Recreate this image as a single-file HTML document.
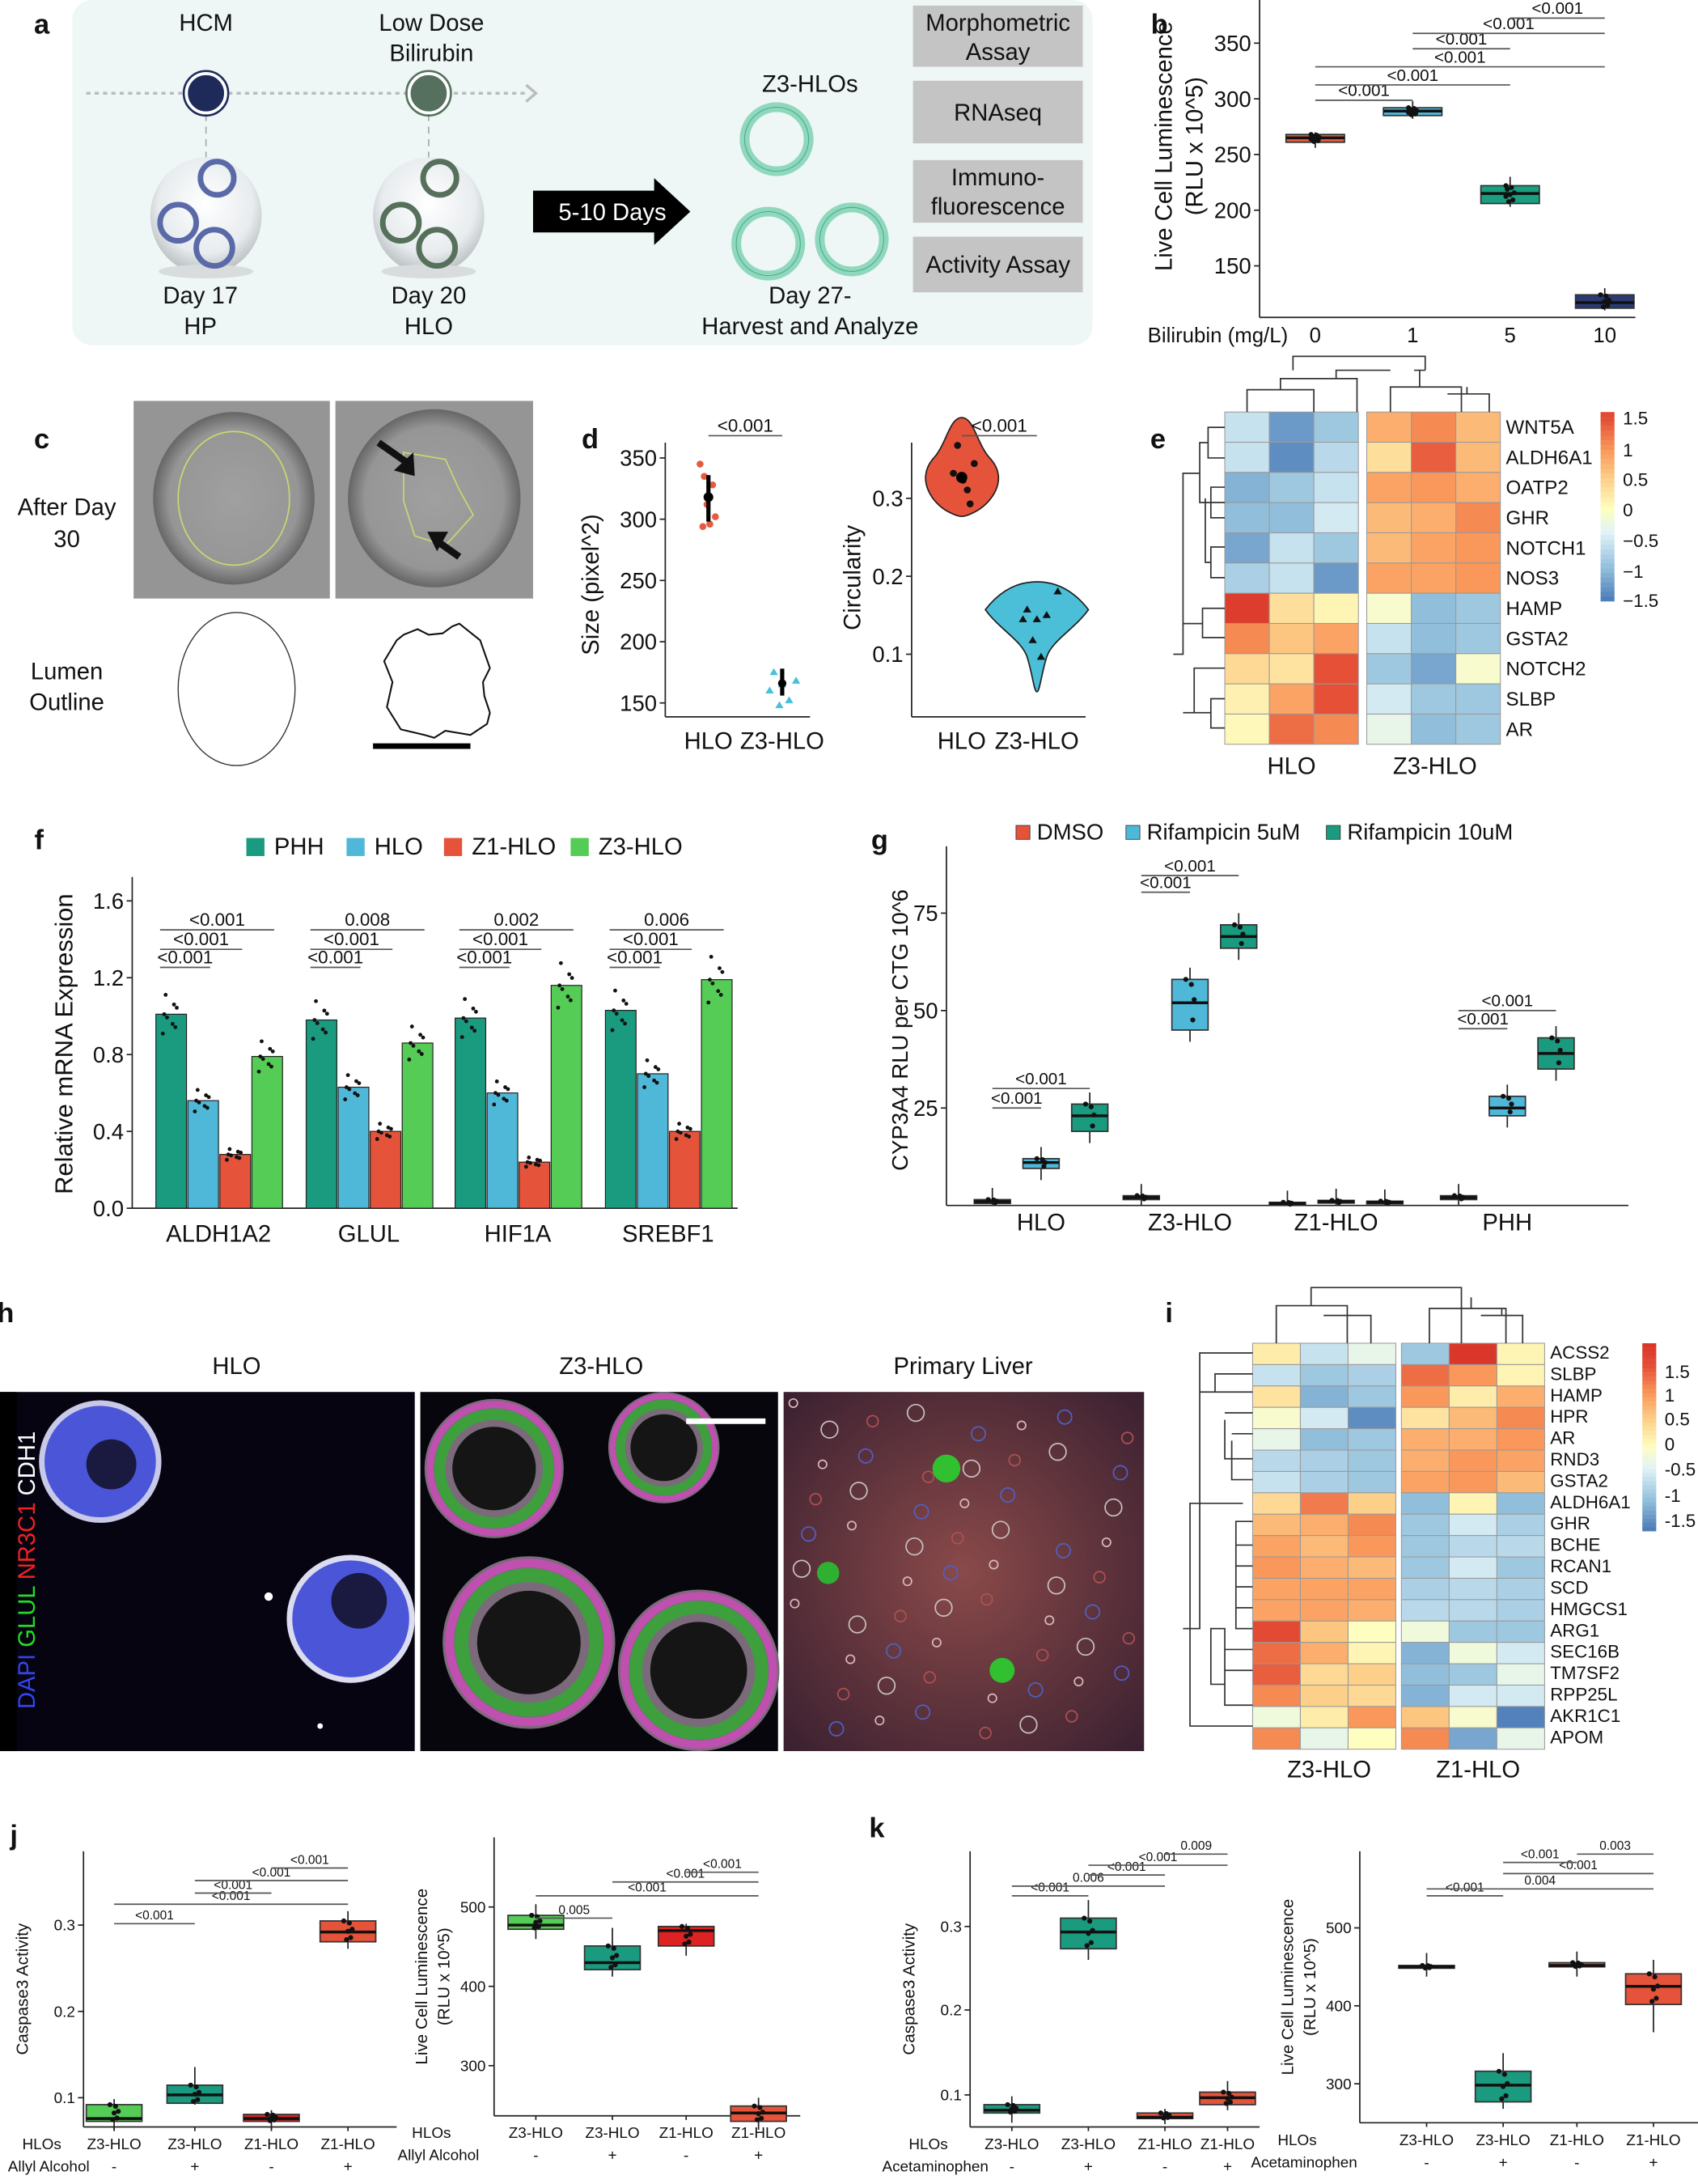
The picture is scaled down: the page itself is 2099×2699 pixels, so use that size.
<!DOCTYPE html>
<html><head><meta charset="utf-8"><style>
html,body{margin:0;padding:0;background:#fff}
svg{display:block}
text{font-family:"Liberation Sans",Arial,sans-serif;fill:#111}
</style></head><body>
<svg id="s" xmlns="http://www.w3.org/2000/svg" width="2099" height="2699" viewBox="0 0 1220 1569" preserveAspectRatio="none">
<defs>
<radialGradient id="dome" cx="50%" cy="40%" r="60%"><stop offset="0" stop-color="#fff"/><stop offset="0.7" stop-color="#e8ecee"/><stop offset="1" stop-color="#b8bec2"/></radialGradient>
<radialGradient id="org" cx="50%" cy="50%" r="50%"><stop offset="0" stop-color="#a0a0a0"/><stop offset="0.8" stop-color="#969696"/><stop offset="1" stop-color="#666"/></radialGradient>
<radialGradient id="liv" cx="50%" cy="50%" r="70%"><stop offset="0" stop-color="#8a4a4a"/><stop offset="1" stop-color="#3a2030"/></radialGradient>
</defs>
<g id="g"></g>
</svg>
<script>
var G=document.getElementById('g'),h='';
function T(x,y,s,fs,o){o=o||{};h+='<text x="'+x+'" y="'+y+'" font-size="'+fs+'"'+(o.a?' text-anchor="'+o.a+'"':' text-anchor="middle"')+(o.w?' font-weight="bold"':'')+(o.f?' style="fill:'+o.f+'"':'')+(o.r?' transform="rotate(-90 '+x+' '+y+')"':'')+'>'+s+'</text>';}
function L(x1,y1,x2,y2,c,w,d){h+='<line x1="'+x1+'" y1="'+y1+'" x2="'+x2+'" y2="'+y2+'" stroke="'+(c||'#222')+'" stroke-width="'+(w||1)+'"'+(d?' stroke-dasharray="'+d+'"':'')+'/>';}
function R(x,y,w,hh,f,s,sw,rx){h+='<rect x="'+x+'" y="'+y+'" width="'+w+'" height="'+hh+'" fill="'+f+'"'+(s?' stroke="'+s+'" stroke-width="'+(sw||1)+'"':'')+(rx?' rx="'+rx+'"':'')+'/>';}
function C(x,y,r,f,s,sw){h+='<circle cx="'+x+'" cy="'+y+'" r="'+r+'" fill="'+f+'"'+(s?' stroke="'+s+'" stroke-width="'+(sw||1)+'"':'')+'/>';}
function P(d,f,s,sw){h+='<path d="'+d+'" fill="'+(f||'none')+'"'+(s?' stroke="'+s+'" stroke-width="'+(sw||1)+'"':'')+'/>';}
function BR(x1,x2,y,lab,fs,c){L(x1,y,x2,y,c||'#555',1);T((x1+x2)/2,y-3,lab,fs);}
function BOX(x,w,top,bot,med,wt,wb,f,n){L(x,wt,x,wb,'#222',1);R(x-w/2,top,w,bot-top,f,'#333',1);L(x-w/2,med,x+w/2,med,'#111',2);
 for(var i=0;i<(n||7);i++){var yy=top+(bot-top)*((i*37)%11)/10;C(x+((i*13)%7-3),yy,1.8,'#111');}}
function pal(v){var st=[[-1.6,[69,117,180]],[-1,[145,191,219]],[-0.4,[224,243,248]],[0,[254,254,192]],[0.5,[253,208,138]],[1,[249,152,90]],[1.5,[229,80,55]],[2,[215,48,39]]];
 if(v<=st[0][0])return 'rgb('+st[0][1]+')';for(var i=1;i<st.length;i++){if(v<=st[i][0]){var a=st[i-1],b=st[i],t=(v-a[0])/(b[0]-a[0]);return 'rgb('+[0,1,2].map(function(k){return Math.round(a[1][k]+(b[1][k]-a[1][k])*t)}).join(',')+')';}}return 'rgb(215,48,39)';}
function AX(x,y1,y2,xa,xb){L(x,y1,x,y2,'#222',1);if(xa!==undefined)L(xa,y2,xb,y2,'#222',1);}
function YT(x,y,lab,fs){L(x-4,y,x,y,'#222',1);T(x-6,y+fs*0.35,lab,fs,{a:'end'});}

// ===== Panel a
T(30,24,'a',20,{w:1});
R(52,0,733,248,'#eef7f6',null,0,14);
L(62,67,378,67,'#bbb',2,'3 3');P('M378,61 L385,67 L378,73','none','#bbb',2);
L(148,82,148,120,'#aaa',1,'5 4');L(308,82,308,120,'#aaa',1,'5 4');
C(148,67,14,'#1e2a5a','#fff',2);C(148,67,16,'none','#1e2a5a',1.5);
C(308,67,14,'#55705e','#fff',2);C(308,67,16,'none','#55705e',1.5);
T(148,22,'HCM',17);T(310,22,'Low Dose',17);T(310,44,'Bilirubin',17);
[[148,'#5a6aa8'],[308,'#56705c']].forEach(function(p){var x=p[0];h+='<ellipse cx="'+x+'" cy="155" rx="40" ry="42" fill="url(#dome)"/>';h+='<ellipse cx="'+x+'" cy="195" rx="34" ry="5" fill="#d8dcdc"/>';
 C(x-20,160,13,'none',p[1],4);C(x+8,128,12,'none',p[1],4);C(x+6,178,13,'none',p[1],4);});
T(144,218,'Day 17',17);T(144,240,'HP',17);T(308,218,'Day 20',17);T(308,240,'HLO',17);
P('M383,137 L470,137 L470,128 L496,152 L470,176 L470,167 L383,167 Z','#000');T(440,158,'5-10 Days',17,{f:'#fff'});
T(582,66,'Z3-HLOs',17);
[[558,100],[552,175],[612,172]].forEach(function(p){C(p[0],p[1],23,'none','#8fd8be',7);C(p[0],p[1],23,'none','#4aa98a',0.6);});
T(582,218,'Day 27-',17);T(582,240,'Harvest and Analyze',17);
[[4,48,['Morphometric','Assay']],[58,103,['RNAseq']],[115,160,['Immuno-','fluorescence']],[170,210,['Activity Assay']]].forEach(function(b){R(656,b[0],122,b[1]-b[0],'#c4c4c4');
 if(b[2].length==2){T(717,b[0]+18,b[2][0],17);T(717,b[0]+39,b[2][1],17);}else T(717,(b[0]+b[1])/2+6,b[2][0],17);});

// ===== Panel b
T(833,24,'b',20,{w:1});
AX(905,0,228,905,1175);
function yb(v){return 311-0.8*v;}
[350,300,250,200,150].forEach(function(v){YT(905,yb(v),v,16);});
T(842,105,'Live Cell Luminescence',17,{r:1});T(864,105,'(RLU x 10^5)',17,{r:1});
BOX(945,42,yb(268),yb(261),yb(265),yb(270),yb(256),'#e05a3a',8);
BOX(1015,42,yb(292),yb(285),yb(289),yb(298),yb(282),'#4fb7da',8);
BOX(1085,42,yb(222),yb(206),yb(215),yb(230),yb(203),'#19a080',8);
BOX(1153,42,yb(124),yb(112),yb(117),yb(130),yb(110),'#2b3a73',6);
BR(945,1015,72,'<0.001',12);BR(945,1085,61,'<0.001',12);BR(945,1153,48,'<0.001',12);
BR(1015,1085,35,'<0.001',12);BR(1015,1153,24,'<0.001',12);BR(1085,1153,13,'<0.001',12);
T(875,246,'Bilirubin (mg/L)',15);T(945,246,'0',15);T(1015,246,'1',15);T(1085,246,'5',15);T(1153,246,'10',15);

// ===== Panel c
T(30,322,'c',20,{w:1});
T(167,306,'HLO',17);T(312,306,'Z3-HLO',17);
T(48,370,'After Day',17);T(48,393,'30',17);T(48,488,'Lumen',17);T(48,510,'Outline',17);
R(96,288,141,142,'#959595');R(241,288,142,142,'#959595');
h+='<ellipse cx="168" cy="358" rx="58" ry="62" fill="url(#org)"/>';
h+='<ellipse cx="168" cy="358" rx="40" ry="48" fill="none" stroke="#c8d870" stroke-width="1"/>';
h+='<ellipse cx="312" cy="358" rx="62" ry="64" fill="url(#org)"/>';
P('M290,325 L320,330 L330,352 L340,370 L320,392 L298,385 L290,360 Z','none','#c8d870',1);
P('M272,318 L292,332','none','#111',5);P('M283,338 L297,325 L298,342 Z','#111');
P('M330,400 L313,388','none','#111',5);P('M307,382 L322,382 L314,396 Z','#111');
h+='<ellipse cx="170" cy="495" rx="42" ry="55" fill="none" stroke="#333" stroke-width="0.8"/>';
P('M285,460 L290,456 L300,452 L308,456 L318,455 L325,450 L330,448 L345,460 L352,480 L347,490 L348,500 L352,512 L350,520 L338,528 L320,525 L312,530 L305,528 L288,524 L278,508 L282,490 L276,475 Z','none','#111',1.2);
L(268,536,338,536,'#000',4);

// ===== Panel d
T(424,322,'d',20,{w:1});
AX(478,318,515,478,582);
function yd(v){return 329+(350-v)*0.88;}
[350,300,250,200,150].forEach(function(v){YT(478,yd(v),v,16);});
T(430,420,'Size (pixel^2)',17,{r:1});
[[506,335],[512,328],[508,312],[514,302],[503,345],[510,296],[505,294]].forEach(function(p){C(p[0],yd(p[1]),2.5,'#e55a40');});
L(509,yd(336),509,yd(298),'#000',3);C(509,yd(318),3.5,'#000');
[[556,175],[562,165],[567,152],[572,168],[560,148],[553,160]].forEach(function(p){P('M'+p[0]+','+(yd(p[1])-3)+' l3,5 l-6,0 z','#4bbfd8');});
L(562,yd(178),562,yd(156),'#000',3);C(562,yd(166),3,'#000');
BR(509,562,313,'<0.001',13);
T(509,538,'HLO',17);T(562,538,'Z3-HLO',17);
AX(655,318,515,655,780);
function yc(v){return 470-(v-0.1)*560;}
[0.3,0.2,0.1].forEach(function(v){YT(655,yc(v),v,16);});
T(618,415,'Circularity',17,{r:1});
P('M691,300 C700,300 702,320 712,330 C725,345 712,362 700,368 C692,372 690,372 682,368 C670,362 658,345 670,330 C680,320 682,300 691,300 Z','#e5533a','#222',1);
P('M745,418 C760,418 772,425 782,438 C772,452 756,460 752,472 C748,485 747,497 745,497 C743,497 742,485 738,472 C734,460 718,452 708,438 C718,425 730,418 745,418 Z','#4bbfd8','#222',1);
[[685,340],[695,352],[700,333],[688,320],[692,345],[697,362]].forEach(function(p){C(p[0],p[1],2.5,'#111');});C(691,343,4,'#000');
[[738,438],[745,445],[752,442],[742,460],[748,472],[760,425],[735,445]].forEach(function(p){P('M'+p[0]+','+(p[1]-3)+' l3,5 l-6,0 z','#111');});
BR(691,745,313,'<0.001',13);
T(691,538,'HLO',17);T(745,538,'Z3-HLO',17);

// ===== Heatmap helper
function HM(x0,gap,y0,cw,rh,names,vals,fs){names.forEach(function(n,i){for(var j=0;j<6;j++){var x=x0+j*cw+(j>2?gap:0);R(x,y0+i*rh,cw,rh,pal(vals[i][j]),'#999',0.6);}
 T(x0+6*cw+gap+4,y0+i*rh+rh*0.72,n,fs,{a:'start'});});}
// Panel e
T(832,322,'e',20,{w:1});
var en=['WNT5A','ALDH6A1','OATP2','GHR','NOTCH1','NOS3','HAMP','GSTA2','NOTCH2','SLBP','AR'];
var ev=[[-.6,-1.3,-.9,.8,1.1,.7],[-.6,-1.4,-.7,.35,1.4,.7],[-1.1,-.9,-.6,.9,1,.8],[-1,-1,-.5,.7,.8,1.1],[-1.2,-.6,-.9,.7,.9,1],[-.8,-.6,-1.3,.9,.9,1],[1.8,.35,.1,-.1,-1,-.9],[1.1,.6,.9,-.6,-1,-.9],[.4,.3,1.5,-.9,-1.2,-.1],[.15,.9,1.5,-.5,-.9,-.9],[.05,1.3,1.1,-.3,-1,-.9]];
HM(880,6,296,32,21.7,en,ev,14);
P('M896,296 V280 H944 V296 M920,280 V272 H975 V296 M960,272 V266 H999 M929,266 V256 H1024 V266 M1024,266 H1016 M999,296 V278 H1050 V296 M1020,278 V266 M1040,283 H1070 V296 M1054,283 V278','none','#333',1);
P('M880,307 H868 V329 H880 M868,318 H862 V361 H880 M862,340 H850 V470 H843 M880,350 H870 V372 H880 M880,393 H870 V415 H880 M870,404 H866 V358 M880,437 H864 V458 H880 M864,448 H850 M880,480 H858 V512 H850 M880,502 H870 V523 H880 M870,512 H858','none','#333',1);
for(var i=0;i<40;i++){R(1150,296+i*3.4,10,3.5,pal(1.6-i*0.08));}
[[1.5,300],[1,323],[0.5,344],[0,366],['−0.5',388],['−1',410],['−1.5',431]].forEach(function(t){T(1166,t[1]+5,t[0],13,{a:'start'});});
T(928,556,'HLO',17);T(1031,556,'Z3-HLO',17);

// ===== Panel f
T(28,610,'f',20,{w:1});
AX(95,630,868,95,530);
function yf(v){return 868-v*138;}
[1.6,1.2,0.8,0.4].forEach(function(v){YT(95,yf(v),v.toFixed(1),16);});YT(95,868,'0.0',16);
T(52,750,'Relative mRNA Expression',18,{r:1});
var fc=['#1a9a7e','#4fb8d8','#e5533a','#55cc55'];
var fv=[[1.01,.56,.28,.79],[.98,.63,.40,.86],[.99,.60,.24,1.16],[1.03,.70,.40,1.19]];
var gx=[157,265,372,480];
gx.forEach(function(c,i){for(var k=0;k<4;k++){var x=c-45+k*23;R(x,yf(fv[i][k]),22,868-yf(fv[i][k]),fc[k],'#222',0.7);
 for(var m=0;m<8;m++){C(x+5+(m*7)%13,yf(fv[i][k]*(0.9+((m*29)%13)/60)),1.4,'#111');}}
 T(c,892,['ALDH1A2','GLUL','HIF1A','SREBF1'][i],17);});
[[157,'<0.001','<0.001','<0.001'],[265,'<0.001','<0.001','0.008'],[372,'<0.001','<0.001','0.002'],[480,'<0.001','<0.001','0.006']].forEach(function(b){var c=b[0];
 BR(c-42,c-6,695,b[1],13);BR(c-42,c+17,682,b[2],13);BR(c-42,c+40,668,b[3],13);});
[['PHH',185],['HLO',257],['Z1-HLO',327],['Z3-HLO',418]].forEach(function(l,i){R(l[1]-8,602,13,13,fc[i]);T(l[1]+12,614,l[0],17,{a:'start'});});

// ===== Panel g
T(632,610,'g',20,{w:1});
AX(680,608,866,680,1170);
function yg(v){return 866-v*2.8;}
[75,50,25].forEach(function(v){YT(680,yg(v),v,16);});
T(652,740,'CYP3A4 RLU per CTG 10^6',16,{r:1});
[['DMSO',735,'#e5533a'],['Rifampicin 5uM',814,'#4fb8d8'],['Rifampicin 10uM',958,'#1a9a7e']].forEach(function(l){R(l[1]-5,593,10,10,l[2],'#333',0.5);T(l[1]+10,603,l[0],16,{a:'start'});});
var gd=[[748,[1,.5,1.5],[11,9.5,12],[23,19,26]],[855,[2,1.5,2.5],[52,45,58],[69,66,72]],[960,[.5,.2,.8],[1,.6,1.3],[.8,.4,1.1]],[1083,[2,1.5,2.5],[25,23,28],[39,35,43]]];
gd.forEach(function(g){var c=g[0];[[c-35,g[1],'#e5533a'],[c,g[2],'#4fb8d8'],[c+35,g[3],'#1a9a7e']].forEach(function(b){var v=b[1];BOX(b[0],26,yg(v[2]),yg(v[1]),yg(v[0]),yg(v[2]+3),yg(Math.max(v[1]-3,0)),b[2],4);});});
T(748,884,'HLO',17);T(855,884,'Z3-HLO',17);T(960,884,'Z1-HLO',17);T(1083,884,'PHH',17);
BR(713,783,782,'<0.001',12);BR(713,748,796,'<0.001',12);BR(820,890,629,'<0.001',12);BR(820,855,641,'<0.001',12);BR(1048,1118,726,'<0.001',12);BR(1048,1083,739,'<0.001',12);

// ===== Panel h
T(4,950,'h',20,{w:1});
T(170,987,'HLO',17);T(432,987,'Z3-HLO',17);T(692,987,'Primary Liver',17);
R(0,1000,298,258,'#050410');R(302,1000,257,258,'#07060d');R(563,1000,259,258,'url(#liv)');
C(72,1050,42,'#4a55d8');C(72,1050,42,'none','#c8c8e8',4);C(80,1052,18,'#1a1a40');
C(252,1163,44,'#4a55d8');C(252,1163,44,'none','#dcdcf0',4);C(258,1150,20,'#1a1a40');
C(193,1147,3,'#fff');C(230,1240,2,'#fff');
[[355,1055,50],[477,1040,40],[380,1180,62],[502,1200,58]].forEach(function(o){C(o[0],o[1],o[2],'#7a6a7a');C(o[0],o[1],o[2]*0.6,'#151515');C(o[0],o[1],o[2]*0.78,'none','#3da03d',o[2]*0.16);C(o[0],o[1],o[2]*0.92,'none','#c050b0',o[2]*0.1);});
L(493,1021,550,1021,'#fff',4);
for(var i=0;i<60;i++){var xx=570+(i*97)%245,yy=1008+(i*53)%240;C(xx,yy,3+(i%4),'none',['#d8b8b8','#b05050','#5060c0','#c8c0c0'][i%4],1);}
C(680,1055,10,'#30c030');C(595,1130,8,'#30b030');C(720,1200,9,'#30c030');
R(0,1000,12,258,'#000');
T(25,1128,'<tspan style="fill:#3344ee">DAPI </tspan><tspan style="fill:#22dd22">GLUL </tspan><tspan style="fill:#ee2222">NR3C1 </tspan><tspan style="fill:#fff">CDH1</tspan>',17,{r:1});

// ===== Panel i
T(840,950,'i',20,{w:1});
var inn=['ACSS2','SLBP','HAMP','HPR','AR','RND3','GSTA2','ALDH6A1','GHR','BCHE','RCAN1','SCD','HMGCS1','ARG1','SEC16B','TM7SF2','RPP25L','AKR1C1','APOM'];
var iv=[[.2,-.6,-.3,-.9,1.9,.1],[-.6,-.9,-.8,1.3,1,.1],[.3,-1.1,-.9,1,.2,.8],[-.1,-.5,-1.4,.3,.7,1.1],[-.3,-1,-.9,.8,.8,1],[-.7,-.8,-.9,.8,1,.9],[-.6,-.8,-.9,.9,1,.7],[.4,1.2,.5,-1,.1,-1],[.7,.8,1.1,-.9,-.5,-.8],[.9,.7,1,-.9,-.7,-.7],[1,.8,.7,-.9,-.5,-.9],[.9,.9,.9,-.8,-.7,-.8],[.9,.9,.8,-.7,-.7,-.8],[1.6,.6,0,-.2,-.9,-.9],[1.3,.8,.1,-1.1,-.2,-.5],[1.4,.4,.5,-1,-.9,-.3],[1.1,.5,.4,-1.1,-.5,-.5],[-.2,.2,1,.6,-.1,-1.5],[1.1,-.3,0,1.1,-1.2,-.3]];
HM(900,4,965,34.3,15.35,inn,iv,13);
P('M917,965 V938 H968 V965 M951,945 H985 V965 M968,945 V938 M942,938 V925 H1050 V965 M1027,965 V940 H1082 V965 M1057,940 V932 M1064,945 H1094 V965 M1079,945 V940','none','#333',1);
P('M900,972 H862 V1170 H850 M862,1000 H873 V987 H900 M873,1000 H900 M880,1015 H900 M880,1020 V1048 H900 M885,1030 H900 M885,1035 V1063 H900 M893,1080 H855 V1240 H865 M900,1093 H888 V1170 H900 M888,1110 H900 M888,1125 H900 M888,1140 H900 M900,1155 H888 M880,1210 H870 V1170 H880 V1225 H900 M880,1185 H900 M880,1200 H900 M900,1240 H865','none','#333',1);
for(var i=0;i<45;i++){R(1180,965+i*3,10,3.1,pal(1.9-i*0.078));}
[[1.5,985],[1,1002],[0.5,1019],[0,1037],['-0.5',1055],['-1',1074],['-1.5',1092]].forEach(function(t){T(1196,t[1]+5,t[0],13,{a:'start'});});
T(955,1277,'Z3-HLO',17);T(1062,1277,'Z1-HLO',17);

// ===== Panels j/k
function small(x0,x1,yTop,yBot,ticks,ylab,cats,boxes,brs,treat,ylab2){
 AX(x0,yTop,yBot,x0,x1);ticks.forEach(function(t){YT(x0,t[1],t[0],11);});
 if(ylab2){T(x0-48,(yTop+yBot)/2,ylab,12,{r:1});T(x0-32,(yTop+yBot)/2,ylab2,12,{r:1});}else T(x0-40,(yTop+yBot)/2,ylab,12,{r:1});
 cats.forEach(function(c,i){L(c,yBot,c,yBot+3,'#222',1);T(c,yBot+16,i<2?'Z3-HLO':'Z1-HLO',11);T(c,yBot+32,i%2?'+':'-',11);});
 T(x0-(ylab2?45:30),yBot+16,'HLOs',11);T(x0-(ylab2?40:25),yBot+32,treat,11);
 boxes.forEach(function(b){BOX(b[0],b[1],b[2],b[3],b[4],b[5],b[6],b[7],6);});
 brs.forEach(function(b){BR(b[0],b[1],b[2],b[3],9);});}
T(10,1325,'j',20,{w:1});T(630,1320,'k',20,{w:1});
var jc=[82,140,195,250];
small(60,285,1330,1528,[[0.3,1383],[0.2,1445],[0.1,1507]],'Caspase3 Activity',jc,
 [[82,40,1512,1524,1522,1508,1530,'#55cc55'],[140,40,1498,1511,1505,1485,1512,'#1a9a7e'],[195,40,1519,1524,1522,1516,1530,'#dd2222'],[250,40,1380,1395,1388,1373,1400,'#e5533a']],
 [[82,140,1382,'<0.001'],[82,250,1368,'<0.001'],[140,195,1360,'<0.001'],[140,250,1351,'<0.001'],[195,250,1342,'<0.001']],'Allyl Alcohol');
var jr=[385,440,493,545];
small(355,575,1320,1520,[[500,1370],[400,1427],[300,1484]],'Live Cell Luminescence',jr,
 [[385,40,1376,1386,1383,1368,1393,'#55cc55'],[440,40,1398,1415,1410,1385,1420,'#1a9a7e'],[493,40,1384,1398,1387,1382,1405,'#dd2222'],[545,40,1513,1524,1518,1507,1530,'#e5533a']],
 [[385,440,1378,'0.005'],[385,545,1362,'<0.001'],[440,545,1352,'<0.001'],[493,545,1345,'<0.001']],'Allyl Alcohol','(RLU x 10^5)');
var kc=[727,782,837,882];
small(697,905,1330,1528,[[0.3,1384],[0.2,1444],[0.1,1505]],'Caspase3 Activity',kc,
 [[727,40,1512,1518,1516,1506,1525,'#1a9a7e'],[782,40,1378,1400,1388,1365,1408,'#1a9a7e'],[837,40,1518,1522,1521,1515,1526,'#e5533a'],[882,40,1503,1512,1507,1495,1516,'#e5533a']],
 [[727,782,1362,'<0.001'],[727,837,1355,'0.006'],[782,837,1347,'<0.001'],[782,882,1340,'<0.001'],[837,882,1332,'0.009']],'Acetaminophen');
var kr=[1025,1080,1133,1188];
small(977,1220,1330,1525,[[500,1385],[400,1441],[300,1497]],'Live Cell Luminescence',kr,
 [[1025,40,1412,1414,1413,1403,1420,'#1a9a7e'],[1080,40,1488,1510,1498,1475,1515,'#1a9a7e'],[1133,40,1410,1413,1412,1402,1420,'#e5533a'],[1188,40,1418,1440,1427,1408,1460,'#e5533a']],
 [[1025,1080,1362,'<0.001'],[1025,1188,1357,'0.004'],[1080,1188,1346,'<0.001'],[1080,1133,1338,'<0.001'],[1133,1188,1332,'0.003']],'Acetaminophen','(RLU x 10^5)');
G.innerHTML=h;
</script>
</body></html>
